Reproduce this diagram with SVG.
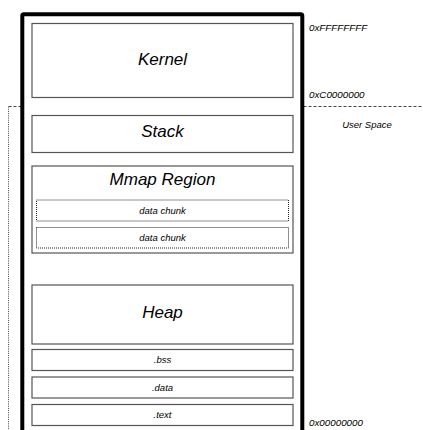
<svg xmlns="http://www.w3.org/2000/svg" width="423" height="430" viewBox="0 0 423 430">
<style>
.t{font-family:"Liberation Sans",Arial,sans-serif;font-style:italic;fill:#000;text-anchor:middle}
.big{font-size:17px}
.sm{font-size:9.5px}
.addr{font-family:"Liberation Sans",Arial,sans-serif;font-style:italic;font-size:9.8px;fill:#000}
.seg{fill:#fff;stroke:#555;stroke-width:1.2}
.chunk{fill:#fff;stroke:#222;stroke-width:1;stroke-dasharray:1 1}
</style>
<rect width="423" height="430" fill="#fff"/>
<g id="user-space-boundary" fill="none" stroke="#444" stroke-width="1">
<path d="M8.5 106.5H423" stroke-dasharray="3 2"/>
<path d="M8.5 106.5V430" stroke-dasharray="1 1.2"/>
</g>
<g id="memory">
<rect x="22.3" y="14.3" width="280" height="430" rx="1.5" fill="#fff" stroke="#000" stroke-width="4"/>
</g>
<g id="kernel"><rect class="seg" x="32" y="23.5" width="261" height="74"/><text class="t big" x="162.5" y="65">Kernel</text></g>
<g id="stack"><rect class="seg" x="32" y="115.5" width="261" height="37"/><text class="t big" x="162.5" y="137">Stack</text></g>
<g id="mmap"><rect class="seg" x="32" y="166" width="261" height="87"/><text class="t big" x="162.5" y="185">Mmap Region</text></g>
<g id="chunk1"><rect class="chunk" x="36.5" y="200" width="252" height="21"/><text class="t sm" x="162.5" y="213.5">data chunk</text></g>
<g id="chunk2"><rect class="chunk" x="36.5" y="227.5" width="252" height="20.5"/><text class="t sm" x="162.5" y="240.5">data chunk</text></g>
<g id="heap"><rect class="seg" x="32" y="285" width="261" height="59"/><text class="t big" x="162.5" y="318">Heap</text></g>
<g id="bss"><rect class="seg" x="32" y="349.5" width="261" height="21"/><text class="t sm" x="162.5" y="363">.bss</text></g>
<g id="data"><rect class="seg" x="32" y="377" width="261" height="21"/><text class="t sm" x="162.5" y="390.5">.data</text></g>
<g id="text"><rect class="seg" x="32" y="404.5" width="261" height="21"/><text class="t sm" x="162.5" y="417.5">.text</text></g>
<g id="labels">
<text class="addr" x="309" y="31">0xFFFFFFFF</text>
<text class="addr" x="309" y="98">0xC0000000</text>
<text class="t sm" x="367" y="128">User Space</text>
<text class="addr" x="309" y="426">0x00000000</text>
</g>
</svg>
